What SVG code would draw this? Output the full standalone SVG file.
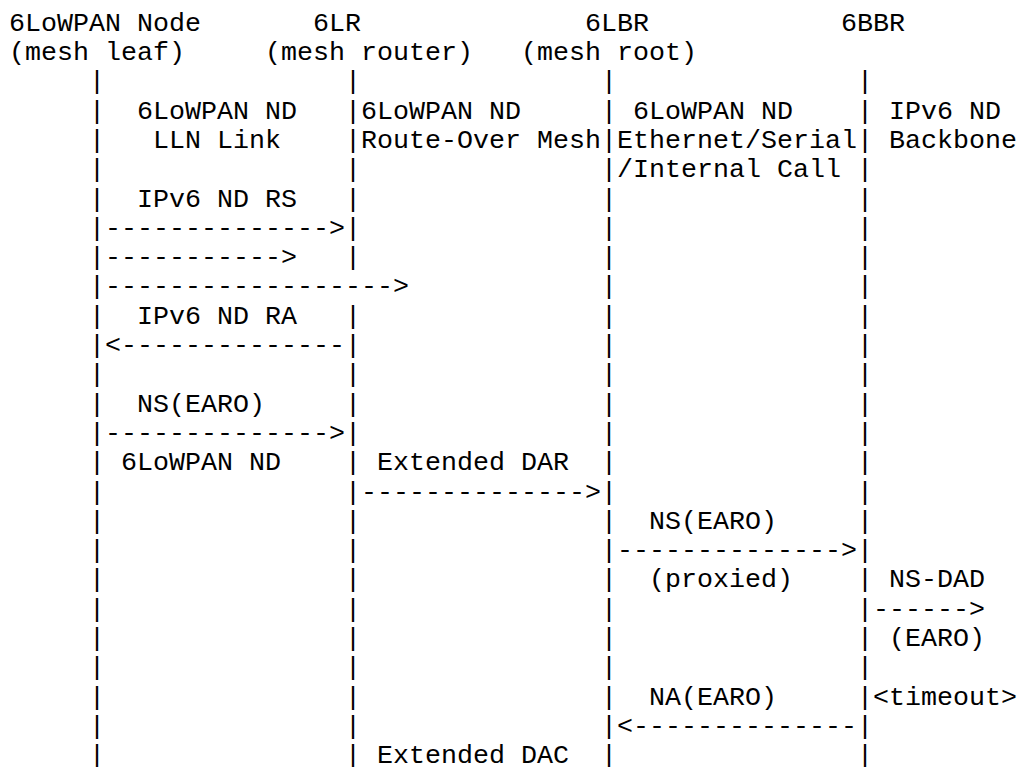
<svg xmlns="http://www.w3.org/2000/svg" width="1019" height="767" viewBox="0 0 1019 767">
<style>
text{font-family:"Liberation Mono","Courier New",monospace;font-size:26.667px;fill:#000;white-space:pre}
</style>
<rect width="1019" height="767" fill="#fff"/>
<g id="node-6lowpan-node">
<text x="9" y="30.7">6LoWPAN Node</text>
<text x="9" y="60">(mesh leaf)</text>
<text class="life"><tspan x="89" y="89.3">|</tspan><tspan x="89" y="118.6">|</tspan><tspan x="89" y="147.9">|</tspan><tspan x="89" y="177.2">|</tspan><tspan x="89" y="206.5">|</tspan><tspan x="89" y="235.8">|</tspan><tspan x="89" y="265.1">|</tspan><tspan x="89" y="294.4">|</tspan><tspan x="89" y="323.7">|</tspan><tspan x="89" y="353">|</tspan><tspan x="89" y="382.3">|</tspan><tspan x="89" y="411.6">|</tspan><tspan x="89" y="440.9">|</tspan><tspan x="89" y="470.2">|</tspan><tspan x="89" y="499.5">|</tspan><tspan x="89" y="528.8">|</tspan><tspan x="89" y="558.1">|</tspan><tspan x="89" y="587.4">|</tspan><tspan x="89" y="616.7">|</tspan><tspan x="89" y="646">|</tspan><tspan x="89" y="675.3">|</tspan><tspan x="89" y="704.6">|</tspan><tspan x="89" y="733.9">|</tspan><tspan x="89" y="763.2">|</tspan></text>
</g>
<g id="node-6lr">
<text x="313" y="30.7">6LR</text>
<text x="265" y="60">(mesh router)</text>
<text class="life"><tspan x="345" y="89.3">|</tspan><tspan x="345" y="118.6">|</tspan><tspan x="345" y="147.9">|</tspan><tspan x="345" y="177.2">|</tspan><tspan x="345" y="206.5">|</tspan><tspan x="345" y="235.8">|</tspan><tspan x="345" y="265.1">|</tspan><tspan x="345" y="323.7">|</tspan><tspan x="345" y="353">|</tspan><tspan x="345" y="382.3">|</tspan><tspan x="345" y="411.6">|</tspan><tspan x="345" y="440.9">|</tspan><tspan x="345" y="470.2">|</tspan><tspan x="345" y="499.5">|</tspan><tspan x="345" y="528.8">|</tspan><tspan x="345" y="558.1">|</tspan><tspan x="345" y="587.4">|</tspan><tspan x="345" y="616.7">|</tspan><tspan x="345" y="646">|</tspan><tspan x="345" y="675.3">|</tspan><tspan x="345" y="704.6">|</tspan><tspan x="345" y="733.9">|</tspan><tspan x="345" y="763.2">|</tspan></text>
</g>
<g id="node-6lbr">
<text x="585" y="30.7">6LBR</text>
<text x="521" y="60">(mesh root)</text>
<text class="life"><tspan x="601" y="89.3">|</tspan><tspan x="601" y="118.6">|</tspan><tspan x="601" y="147.9">|</tspan><tspan x="601" y="177.2">|</tspan><tspan x="601" y="206.5">|</tspan><tspan x="601" y="235.8">|</tspan><tspan x="601" y="265.1">|</tspan><tspan x="601" y="294.4">|</tspan><tspan x="601" y="323.7">|</tspan><tspan x="601" y="353">|</tspan><tspan x="601" y="382.3">|</tspan><tspan x="601" y="411.6">|</tspan><tspan x="601" y="440.9">|</tspan><tspan x="601" y="470.2">|</tspan><tspan x="601" y="499.5">|</tspan><tspan x="601" y="528.8">|</tspan><tspan x="601" y="558.1">|</tspan><tspan x="601" y="587.4">|</tspan><tspan x="601" y="616.7">|</tspan><tspan x="601" y="646">|</tspan><tspan x="601" y="675.3">|</tspan><tspan x="601" y="704.6">|</tspan><tspan x="601" y="733.9">|</tspan><tspan x="601" y="763.2">|</tspan></text>
</g>
<g id="node-6bbr">
<text x="841" y="30.7">6BBR</text>
<text class="life"><tspan x="857" y="89.3">|</tspan><tspan x="857" y="118.6">|</tspan><tspan x="857" y="147.9">|</tspan><tspan x="857" y="177.2">|</tspan><tspan x="857" y="206.5">|</tspan><tspan x="857" y="235.8">|</tspan><tspan x="857" y="265.1">|</tspan><tspan x="857" y="294.4">|</tspan><tspan x="857" y="323.7">|</tspan><tspan x="857" y="353">|</tspan><tspan x="857" y="382.3">|</tspan><tspan x="857" y="411.6">|</tspan><tspan x="857" y="440.9">|</tspan><tspan x="857" y="470.2">|</tspan><tspan x="857" y="499.5">|</tspan><tspan x="857" y="528.8">|</tspan><tspan x="857" y="558.1">|</tspan><tspan x="857" y="587.4">|</tspan><tspan x="857" y="616.7">|</tspan><tspan x="857" y="646">|</tspan><tspan x="857" y="675.3">|</tspan><tspan x="857" y="704.6">|</tspan><tspan x="857" y="733.9">|</tspan><tspan x="857" y="763.2">|</tspan></text>
</g>
<g id="link-labels">
<text x="137" y="118.6">6LoWPAN ND</text>
<text x="153" y="147.9">LLN Link</text>
<text x="361" y="118.6">6LoWPAN ND</text>
<text x="361" y="147.9">Route-Over Mesh</text>
<text x="633" y="118.6">6LoWPAN ND</text>
<text x="617" y="147.9">Ethernet/Serial</text>
<text x="617" y="177.2">/Internal Call</text>
<text x="889" y="118.6">IPv6 ND</text>
<text x="889" y="147.9">Backbone</text>
</g>
<g id="connectors">
<text x="105" y="235.8">--------------&gt;</text>
<text x="105" y="265.1">-----------&gt;</text>
<text x="105" y="294.4">------------------&gt;</text>
<text x="105" y="353">&lt;--------------</text>
<text x="105" y="440.9">--------------&gt;</text>
<text x="361" y="499.5">--------------&gt;</text>
<text x="617" y="558.1">--------------&gt;</text>
<text x="873" y="616.7">------&gt;</text>
<text x="617" y="733.9">&lt;--------------</text>
</g>
<g id="message-labels">
<text x="137" y="206.5">IPv6 ND RS</text>
<text x="137" y="323.7">IPv6 ND RA</text>
<text x="137" y="411.6">NS(EARO)</text>
<text x="121" y="470.2">6LoWPAN ND</text>
<text x="377" y="470.2">Extended DAR</text>
<text x="649" y="528.8">NS(EARO)</text>
<text x="649" y="587.4">(proxied)</text>
<text x="889" y="587.4">NS-DAD</text>
<text x="889" y="646">(EARO)</text>
<text x="649" y="704.6">NA(EARO)</text>
<text x="873" y="704.6">&lt;timeout&gt;</text>
<text x="377" y="763.2">Extended DAC</text>
</g>
</svg>
